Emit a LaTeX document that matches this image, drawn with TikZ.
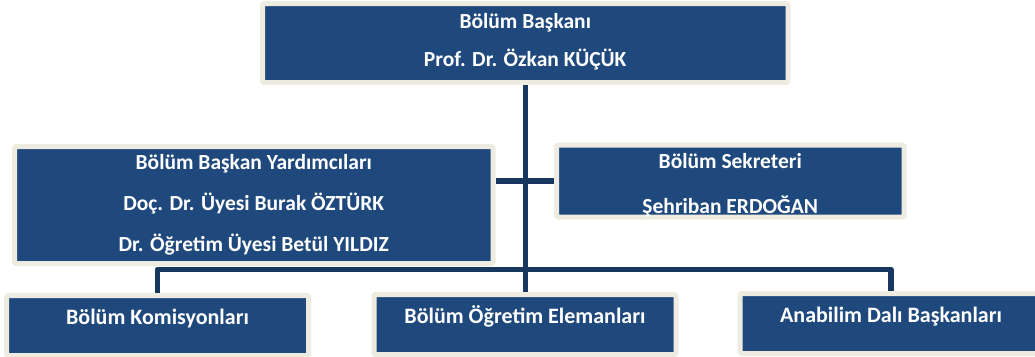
\documentclass[tikz,border=0pt]{standalone}
\usepackage{fontspec}
\setmainfont{Carlito}
\usetikzlibrary{positioning}
\definecolor{boxblue}{HTML}{1F497D}
\definecolor{boxframe}{HTML}{EEECE1}
\definecolor{linenavy}{HTML}{17375E}
\newcommand\boxfont[2]{\bfseries\fontsize{#1}{#2}\selectfont}
\tikzset{
  unit/.style={draw=boxframe, line width=5pt, fill=boxblue, rounded corners=1.5pt,
    text=white, align=center, inner sep=0pt},
  bottomunit/.style={unit, minimum width=302pt, minimum height=60pt,
    text height=15pt, text depth=18pt, font=\boxfont{22}{26}},
  conn/.style={draw=linenavy, line width=5.5pt, line join=round}
}

\begin{document}
\begin{tikzpicture}[x=1pt, y=-1pt]
  %%%%% START %%%%%
  \useasboundingbox (0,0) rectangle (1035,356);

  % head
  \node[unit, minimum width=525.5pt, minimum height=79pt, font=\boxfont{21.5}{38}] (head)
    at (525.25,43) {Bölüm Başkanı\\Prof. Dr. Özkan KÜÇÜK\rule[-6pt]{0pt}{6pt}};

  % deputies and secretary
  \node[unit, minimum width=478.5pt, minimum height=117pt, font=\boxfont{21.5}{41}] (deputy)
    at (253.75,205) {Bölüm Başkan Yardımcıları\\Doç. Dr. Üyesi Burak ÖZTÜRK\\Dr. Öğretim Üyesi Betül YILDIZ};
  \node[unit, minimum width=347.5pt, minimum height=72pt, font=\boxfont{21.5}{45}] (secr)
    at (730.25,181) {\rule{0pt}{23pt}Bölüm Sekreteri\\Şehriban ERDOĞAN};

  % bottom row
  \node[bottomunit] (comm) at (157.5,325.5) {Bölüm Komisyonları};
  \node[bottomunit] (staff) at (525,324.5) {Bölüm Öğretim Elemanları};
  \node[bottomunit] (chairs) at (891,323.5) {Anabilim Dalı Başkanları};

  \coordinate (bus) at (525,269.5);

  % connectors
  \draw[conn] (head.south) -- (head.south |- staff.north);
  \draw[conn] (deputy.east |- secr.west) -- (secr.west);
  \draw[conn] (comm.north) |- (bus) -| (chairs.north);

  %%%%% END %%%%%
\end{tikzpicture}
\end{document}
